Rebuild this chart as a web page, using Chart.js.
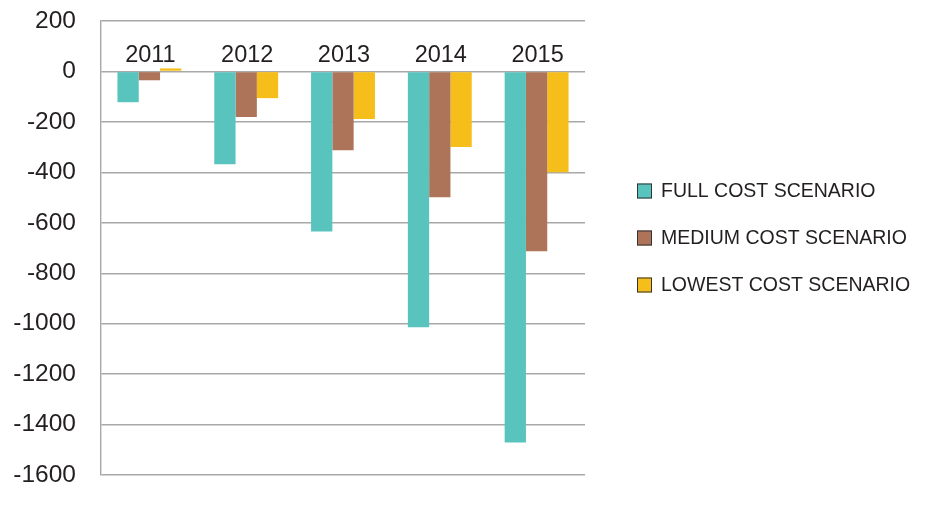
<!DOCTYPE html>
<html>
<head>
<meta charset="utf-8">
<script src="https://cdn.jsdelivr.net/npm/chart.js@4"></script>
<style>
  html, body { margin: 0; padding: 0; background: #fff; }
  #wrap { width: 930px; height: 506px; position: relative; }
</style>
</head>
<body>
<div id="wrap"><canvas id="chart1"></canvas></div>
<script>
// ----------------------------
// Data
// ----------------------------
const years = ["2011", "2012", "2013", "2014", "2015"];
const fullCost = [-122, -368, -635, -1014, -1471];
const mediumCost = [-35, -181, -312, -499, -713];
const lowestCost = [12, -106, -189, -300, -400];
const yTicks = [200, 0, -200, -400, -600, -800, -1000, -1200, -1400, -1600];

const textColor = "#231f20";
const gridColor = "#a8a8a8";
const fontFam = "'Liberation Sans', Arial, sans-serif";

function ds(label, data, color) {
  return {
    label,
    data,
    backgroundColor: color,
    borderWidth: 0,
    categoryPercentage: 0.66,
    barPercentage: 1.0
  };
}

// year labels drawn inside the plot, above the zero line
const yearLabels = {
  id: "yearLabels",
  afterDatasetsDraw(chart) {
    const ctx = chart.ctx;
    const xs = chart.scales.x, ys = chart.scales.y;
    const y0 = ys.getPixelForValue(0);
    ctx.save();
    ctx.font = "23.5px " + fontFam;
    ctx.fillStyle = textColor;
    ctx.textAlign = "center";
    ctx.textBaseline = "alphabetic";
    chart.data.labels.forEach((lab, i) => {
      ctx.fillText(lab, xs.getPixelForValue(i) + 1, y0 - 9);
    });
    ctx.restore();
  }
};

// legend on the right, boxes with dark outline
const sideLegend = {
  id: "sideLegend",
  afterDraw(chart, args, opts) {
    const ctx = chart.ctx;
    ctx.save();
    ctx.font = opts.fontSize + "px " + fontFam;
    ctx.textBaseline = "middle";
    ctx.textAlign = "left";
    chart.data.datasets.forEach((d, i) => {
      const yc = opts.top + i * opts.step;
      ctx.fillStyle = d.backgroundColor;
      ctx.fillRect(opts.left, yc - opts.box / 2, opts.box, opts.box);
      ctx.strokeStyle = "#333";
      ctx.lineWidth = 1;
      ctx.strokeRect(opts.left + 0.5, yc - opts.box / 2 + 0.5, opts.box - 1, opts.box - 1);
      ctx.fillStyle = textColor;
      ctx.fillText(d.label, opts.left + opts.box + 9, yc + 1);
    });
    ctx.restore();
  }
};

const ctx = document.getElementById("chart1").getContext("2d");
new Chart(ctx, {
  type: "bar",
  data: {
    labels: years,
    datasets: [
      ds("FULL COST SCENARIO", fullCost, "#59c4be"),
      ds("MEDIUM COST SCENARIO", mediumCost, "#ae745a"),
      ds("LOWEST COST SCENARIO", lowestCost, "#f5be1b")
    ]
  },
  plugins: [yearLabels, sideLegend],
  options: {
    responsive: true,
    maintainAspectRatio: false,
    animation: false,
    layout: { padding: { left: 0, right: 345, top: 21, bottom: 31 } },
    plugins: {
      legend: { display: false },
      tooltip: { enabled: false },
      sideLegend: { left: 637, top: 191, step: 47, box: 15, fontSize: 19.5 }
    },
    scales: {
      x: {
        display: false
      },
      y: {
        min: -1600,
        max: 200,
        afterBuildTicks: (axis) => { axis.ticks = yTicks.map(v => ({ value: v })); },
        afterFit: (axis) => {
          axis.width = 101;
          axis.paddingTop = 0;   // keep plot top/bottom where the padding says
          axis.paddingBottom = 0;
        },
        ticks: {
          padding: 25,
          color: textColor,
          font: { size: 24.5, family: fontFam },
          callback: (v) => String(v)
        },
        grid: {
          color: gridColor,
          lineWidth: 1.4,
          drawTicks: false
        },
        border: { display: true, color: gridColor, width: 1.4 }
      }
    }
  }
});
</script>
</body>
</html>
